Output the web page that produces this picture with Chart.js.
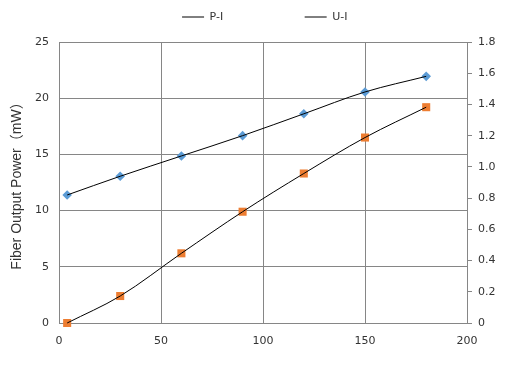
<!DOCTYPE html>
<html><head><meta charset="utf-8">
<script src="https://cdn.jsdelivr.net/npm/chart.js@4"></script>
<style>html,body{margin:0;padding:0;background:#fff}#wrap{width:518px;height:366px}</style>
</head><body><div id="wrap"><canvas id="c"></canvas></div>
<script>
const currentMA = [4, 30, 60, 90, 120, 150, 180];
const powerMW = [0, 2.4, 6.2, 9.9, 13.3, 16.5, 19.2];
const voltageV = [0.82, 0.94, 1.07, 1.20, 1.34, 1.48, 1.58];
const seriesNames = ['P-I', 'U-I'];
const yTitle = 'Fiber Output Power（mW）';
const xRange = [0, 200, 50];
const yRange = [0, 25, 5];
const y1Range = [0, 1.8, 0.2];

const GRID = '#868686';
const TXT = '#333333';
const tickFont = {family: "'DejaVu Sans', Verdana, sans-serif", size: 11};
const pts = arr => currentMA.map((x, i) => ({x, y: arr[i]}));

const lineDs = (label, arr, axis) => ({
  label, data: pts(arr), yAxisID: axis, xAxisID: 'x', showLine: true,
  borderColor: '#000', borderWidth: 1, pointRadius: 0, pointHoverRadius: 0,
  cubicInterpolationMode: 'monotone', fill: false, clip: false, order: 1, isLine: true
});
const markDs = (label, arr, axis, style, color, r) => ({
  label: label + ' markers', data: pts(arr), yAxisID: axis, xAxisID: 'x', showLine: false,
  pointStyle: style, pointRadius: r, pointBackgroundColor: color, pointBorderColor: color,
  pointBorderWidth: 0, borderColor: color, clip: false, order: 2
});

new Chart(document.getElementById('c'), {
  type: 'scatter',
  data: {
    datasets: [
      lineDs(seriesNames[0], powerMW, 'y'),
      lineDs(seriesNames[1], voltageV, 'y1'),
      markDs(seriesNames[0], powerMW, 'y', 'rect', '#ED7D31', 5.7),
      markDs(seriesNames[1], voltageV, 'y1', 'rectRot', '#5B9BD5', 4.8)
    ]
  },
  options: {
    responsive: true, maintainAspectRatio: false, animation: false,
    layout: {padding: {top: -70, left: 11.5, right: 0, bottom: 0}},
    plugins: {
      tooltip: {enabled: false},
      legend: {
        position: 'top',
        labels: {
          usePointStyle: true, pointStyle: 'line', pointStyleWidth: 22,
          padding: 81.5, font: tickFont, color: TXT,
          filter: (item, data) => data.datasets[item.datasetIndex].isLine,
          generateLabels(chart) {
            const items = Chart.defaults.plugins.legend.labels.generateLabels(chart);
            items.forEach(i => { i.strokeStyle = '#000'; i.fillStyle = '#000'; i.lineWidth = 1; i.pointStyle = 'line'; });
            return items;
          }
        }
      }
    },
    scales: {
      x: {
        type: 'linear', position: 'bottom', min: xRange[0], max: xRange[1],
        ticks: {stepSize: xRange[2], font: tickFont, color: TXT, padding: 12, maxRotation: 0},
        grid: {color: GRID, drawTicks: false}, border: {color: GRID},
        afterFit(s) { s.height = 43; }
      },
      xs: {
        type: 'linear', position: 'top', display: true,
        grid: {display: false}, border: {display: false}, ticks: {display: false},
        afterFit(s) { s.height = 9.5; }
      },
      y: {
        type: 'linear', position: 'left', min: yRange[0], max: yRange[1],
        ticks: {stepSize: yRange[2], font: tickFont, color: TXT, padding: 10},
        grid: {color: GRID, drawTicks: false}, border: {color: GRID},
        title: {display: true, text: yTitle, color: TXT,
          font: {family: "'Liberation Sans', 'Noto Sans CJK SC', sans-serif", size: 14},
          padding: {top: -3, bottom: 0}},
        afterFit(s) { s.width = 47.5; }
      },
      y1: {
        type: 'linear', position: 'right', min: y1Range[0], max: y1Range[1],
        ticks: {stepSize: y1Range[2], font: tickFont, color: TXT, padding: 6},
        grid: {drawOnChartArea: false, color: GRID, tickLength: 5}, border: {color: GRID},
        afterFit(s) { s.width = 51; }
      }
    }
  }
});
</script>
</body></html>
